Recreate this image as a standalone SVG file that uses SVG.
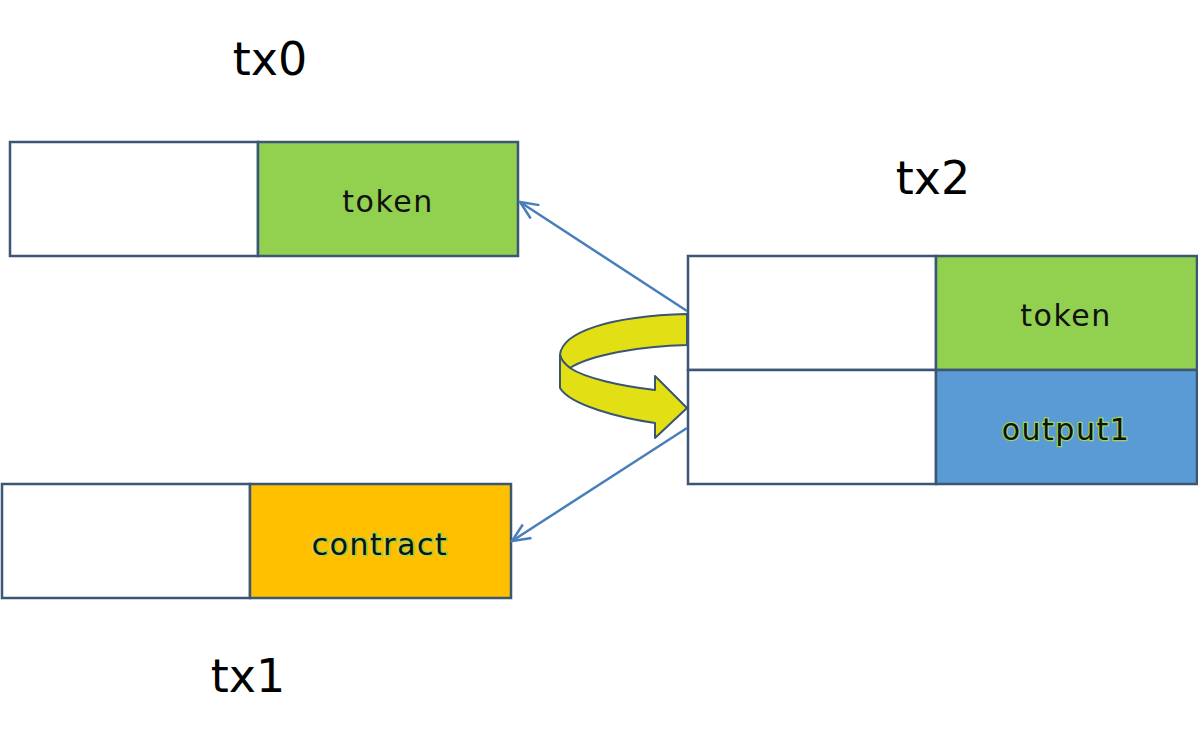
<svg xmlns="http://www.w3.org/2000/svg" width="1198" height="744" viewBox="0 0 1198 744">
<defs>
<style>
.box{stroke:#3B5775;stroke-width:2.5}
.lbl{font-family:"DejaVu Sans",sans-serif;font-size:30px;fill:#111;text-anchor:middle;letter-spacing:1.5px}
.glow{paint-order:stroke;stroke:#9BD55A;stroke-width:2.5}
.title{font-family:"DejaVu Sans",sans-serif;font-size:46px;fill:#000;text-anchor:middle}
.conn{stroke:#4A7EBB;stroke-width:2.5;fill:none}
.ribbon{fill:#E2E014;stroke:#3A5573;stroke-width:2;stroke-linejoin:round}
</style>
<marker id="open" viewBox="0 0 24 24" refX="22" refY="12" markerWidth="24" markerHeight="24" markerUnits="userSpaceOnUse" orient="auto">
<polyline points="4,4 22,12 4,20" fill="none" stroke="#4A7EBB" stroke-width="2.5"/>
</marker>
</defs>
<rect width="1198" height="744" fill="#fff"/>
<g id="tx0">
<text class="title" x="270" y="75">tx0</text>
<rect class="box" x="10" y="142" width="248" height="114" fill="#fff"/>
<rect class="box" x="258" y="142" width="260" height="114" fill="#92D050"/>
<text class="lbl" x="388" y="212">token</text>
</g>
<g id="tx1">
<rect class="box" x="2" y="484" width="248" height="114" fill="#fff"/>
<rect class="box" x="250" y="484" width="261" height="114" fill="#FFC000"/>
<text class="lbl glow" x="380" y="555">contract</text>
<text class="title" x="248" y="692">tx1</text>
</g>
<g id="tx2">
<text class="title" x="933" y="194">tx2</text>
<rect class="box" x="688" y="256" width="248" height="114" fill="#fff"/>
<rect class="box" x="936" y="256" width="261" height="114" fill="#92D050"/>
<rect class="box" x="688" y="370" width="248" height="114" fill="#fff"/>
<rect class="box" x="936" y="370" width="261" height="114" fill="#5B9BD5"/>
<text class="lbl" x="1066" y="326">token</text>
<text class="lbl glow" x="1066" y="440">output1</text>
</g>
<g id="connectors">
<line class="conn" x1="687" y1="311" x2="520" y2="202" marker-end="url(#open)"/>
<line class="conn" x1="687" y1="428" x2="512" y2="541" marker-end="url(#open)"/>
</g>
<g id="curved-arrow">
<path class="ribbon" fill="#D9D812" d="M687,314 C610,316 562,332 560,355 C562,362 566,366 570,368 C590,355 640,346 687,345 Z"/>
<path class="ribbon" d="M560,355 L560,388 C570,405 620,418 655,423 L655,438 L687,408 L655,376 L655,390 C620,386 585,378 570,368 C565,364 561,360 560,355 Z"/>
</g>
</svg>
